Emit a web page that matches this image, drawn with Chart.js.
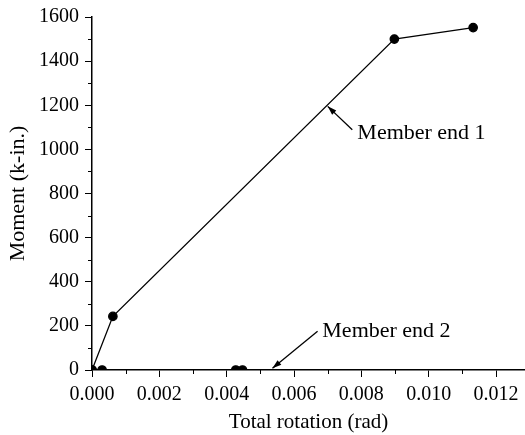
<!DOCTYPE html>
<html><head><meta charset="utf-8">
<script src="https://cdn.jsdelivr.net/npm/chart.js@4"></script>
<style>html,body{margin:0;padding:0;background:#fff;overflow:hidden}#w{width:525px;height:435px;position:relative}</style>
</head><body><div id="w"><canvas id="c"></canvas></div>
<script>
const end1X = [0, 0.00062, 0.00898, 0.01132];
const end1Y = [0, 243, 1500, 1552];
const end2X = [0, 0.0003, 0.00427, 0.00447];
const end2Y = [0, 0, 0, 0];
const xTicks = [0, 0.002, 0.004, 0.006, 0.008, 0.010, 0.012];
const yTicks = [0, 200, 400, 600, 800, 1000, 1200, 1400, 1600];
const labels = [
  {text: 'Member end 1', tx: 0.00788, ty: 1049, ax: 0.0070, ay: 1195, fx: 0.00773, fy: 1089},
  {text: 'Member end 2', tx: 0.00684, ty: 149, ax: 0.00536, ay: 8, fx: 0.00670, fy: 176}
];
const FONT = '"Liberation Serif", "DejaVu Serif", serif';

const pts = (xs, ys) => xs.map((x, i) => ({x, y: ys[i]}));

const extras = {
  id: 'extras',
  afterDraw(chart) {
    const {ctx, scales: {x, y}} = chart;
    ctx.save();
    ctx.strokeStyle = '#000'; ctx.lineWidth = 1;
    for (let v = 100; v < 1600; v += 200) {
      const py = Math.round(y.getPixelForValue(v)) + 0.5;
      ctx.beginPath(); ctx.moveTo(x.left - 4, py); ctx.lineTo(x.left, py); ctx.stroke();
    }
    for (let v = 0.001; v < 0.0128; v += 0.002) {
      const px = Math.round(x.getPixelForValue(v)) + 0.5;
      ctx.beginPath(); ctx.moveTo(px, y.bottom); ctx.lineTo(px, y.bottom + 4); ctx.stroke();
    }
    ctx.font = '22px ' + FONT; ctx.fillStyle = '#000';
    ctx.textBaseline = 'alphabetic'; ctx.textAlign = 'left';
    labels.forEach(l => {
      ctx.fillText(l.text, x.getPixelForValue(l.tx), y.getPixelForValue(l.ty));
      const x0 = x.getPixelForValue(l.fx), y0 = y.getPixelForValue(l.fy);
      const x1 = x.getPixelForValue(l.ax), y1 = y.getPixelForValue(l.ay);
      ctx.lineWidth = 1.3;
      ctx.beginPath(); ctx.moveTo(x0, y0); ctx.lineTo(x1, y1); ctx.stroke();
      const ang = Math.atan2(y1 - y0, x1 - x0), L = 9, W = 3;
      ctx.beginPath();
      ctx.moveTo(x1, y1);
      ctx.lineTo(x1 - L * Math.cos(ang) + W * Math.sin(ang), y1 - L * Math.sin(ang) - W * Math.cos(ang));
      ctx.lineTo(x1 - L * Math.cos(ang) - W * Math.sin(ang), y1 - L * Math.sin(ang) + W * Math.cos(ang));
      ctx.closePath(); ctx.fill();
    });
    ctx.restore();
  }
};

new Chart(document.getElementById('c'), {
  type: 'scatter',
  data: {datasets: [
    {data: pts(end1X, end1Y), showLine: true, borderColor: '#000', backgroundColor: '#000', borderWidth: 1.3, pointRadius: 4.2, pointHoverRadius: 4.2},
    {data: pts(end2X, end2Y), showLine: true, borderColor: '#000', backgroundColor: '#000', borderWidth: 1.3, pointRadius: 4.2, pointHoverRadius: 4.2}
  ]},
  options: {
    responsive: true, maintainAspectRatio: false, animation: false,
    layout: {autoPadding: false, padding: {top: 17, right: 0, left: 2.6, bottom: 0}},
    plugins: {legend: {display: false}, tooltip: {enabled: false}},
    scales: {
      x: {
        type: 'linear', min: 0, max: 0.01286,
        afterBuildTicks: s => { s.ticks = xTicks.map(v => ({value: v})); },
        afterFit: s => { s.paddingRight = 0; s.height = 65; },
        ticks: {font: {family: FONT, size: 20}, color: '#000', padding: 6, maxRotation: 0,
          callback: v => v.toFixed(3)},
        grid: {drawOnChartArea: false, tickLength: 7, color: '#000', tickColor: '#000'},
        border: {color: '#000', width: 1.5},
        title: {display: true, text: 'Total rotation (rad)', font: {family: FONT, size: 21}, color: '#000', padding: {top: 0, bottom: 0}}
      },
      y: {
        type: 'linear', min: 0, max: 1600,
        afterBuildTicks: s => { s.ticks = yTicks.map(v => ({value: v})); },
        afterFit: s => { s.paddingTop = 0; },
        ticks: {font: {family: FONT, size: 20}, color: '#000', padding: 6, callback: v => String(v)},
        grid: {drawOnChartArea: false, tickLength: 7, color: '#000', tickColor: '#000'},
        border: {color: '#000', width: 1.5},
        title: {display: true, text: 'Moment (k-in.)', font: {family: FONT, size: 22}, color: '#000', padding: {top: 2, bottom: 2}}
      }
    }
  },
  plugins: [extras]
});
</script></body></html>
